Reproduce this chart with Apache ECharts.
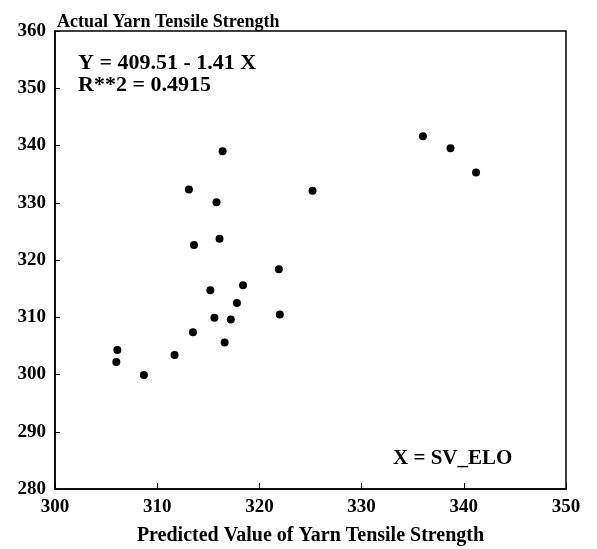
<!DOCTYPE html>
<html lang="en">
<head>
    <meta charset="UTF-8">
    <title>Yarn Tensile Strength</title>
    <script src="https://cdn.jsdelivr.net/npm/echarts@6/dist/echarts.min.js"></script>
    <style>
        body{margin:0;background:#fff;}
        #main{width:597px;height:549px;}
    </style>
</head>
<body>
<div id="main"></div>
<script>
    // predicted (x) and actual (y) yarn tensile strength
    var predicted=[316.4,313.1,325.2,315.8,316.1,313.6,321.9,318.4,315.2,317.8,315.6,
        317.2,322.0,313.5,316.6,306.1,306.0,311.7,308.7,336.0,338.7,341.2];
    var actual=[339.0,332.3,332.1,330.1,323.7,322.6,318.4,315.6,314.7,312.5,309.9,
        309.6,310.5,307.4,305.6,304.3,302.2,303.4,299.9,341.6,339.5,335.3];
    var xTicks=[300,310,320,330,340,350];
    var yTicks=[280,290,300,310,320,330,340,350,360];
    var fitText='Y = 409.51 - 1.41 X';
    var r2Text='R**2 = 0.4915';
    var xVarText='X = SV_ELO';

    var points=[];
    for(var i=0;i<predicted.length;i++){
        points.push([predicted[i],actual[i]]);
    }

    var font='"Liberation Serif", "DejaVu Serif", serif';
    var myCharts=echarts.init(document.getElementById('main'));
    var option={
        animation:false,
        title:{
            text:'Actual Yarn Tensile Strength',
            left:52,
            top:8,
            textStyle:{fontFamily:font,fontWeight:'bold',fontSize:18,color:'#000'}
        },
        grid:{
            show:true,
            left:55,
            right:31,
            top:31,
            bottom:60,
            outerBoundsMode:'none',
            borderColor:'#000',
            borderWidth:1.5,
            containLabel:false
        },
        xAxis:{
            type:'value',
            min:xTicks[0],
            max:xTicks[xTicks.length-1],
            interval:10,
            name:'Predicted Value of Yarn Tensile Strength',
            nameLocation:'middle',
            nameGap:37,
            nameTextStyle:{fontFamily:font,fontWeight:'bold',fontSize:20,color:'#000'},
            axisLine:{lineStyle:{color:'#000',width:1.5}},
            axisTick:{inside:true,length:6,lineStyle:{color:'#000'}},
            axisLabel:{fontFamily:font,fontWeight:'bold',fontSize:19,color:'#000',margin:9},
            splitLine:{show:false}
        },
        yAxis:{
            type:'value',
            min:yTicks[0],
            max:yTicks[yTicks.length-1],
            interval:10,
            axisLine:{show:true,lineStyle:{color:'#000',width:1.5}},
            axisTick:{show:true,inside:true,length:5,lineStyle:{color:'#000'}},
            axisLabel:{fontFamily:font,fontWeight:'bold',fontSize:19,color:'#000',margin:9},
            splitLine:{show:false}
        },
        graphic:[
            {type:'text',left:78,top:52,style:{text:fitText,font:'bold 22px '+font,fill:'#000'}},
            {type:'text',left:78,top:74,style:{text:r2Text,font:'bold 22px '+font,fill:'#000'}},
            {type:'text',left:393,top:448,style:{text:xVarText,font:'bold 21px '+font,fill:'#000'}}
        ],
        series:[{
            type:'scatter',
            data:points,
            symbol:'circle',
            symbolSize:8,
            itemStyle:{color:'#000',opacity:1}
        }]
    };
    myCharts.setOption(option);
</script>
</body>
</html>
